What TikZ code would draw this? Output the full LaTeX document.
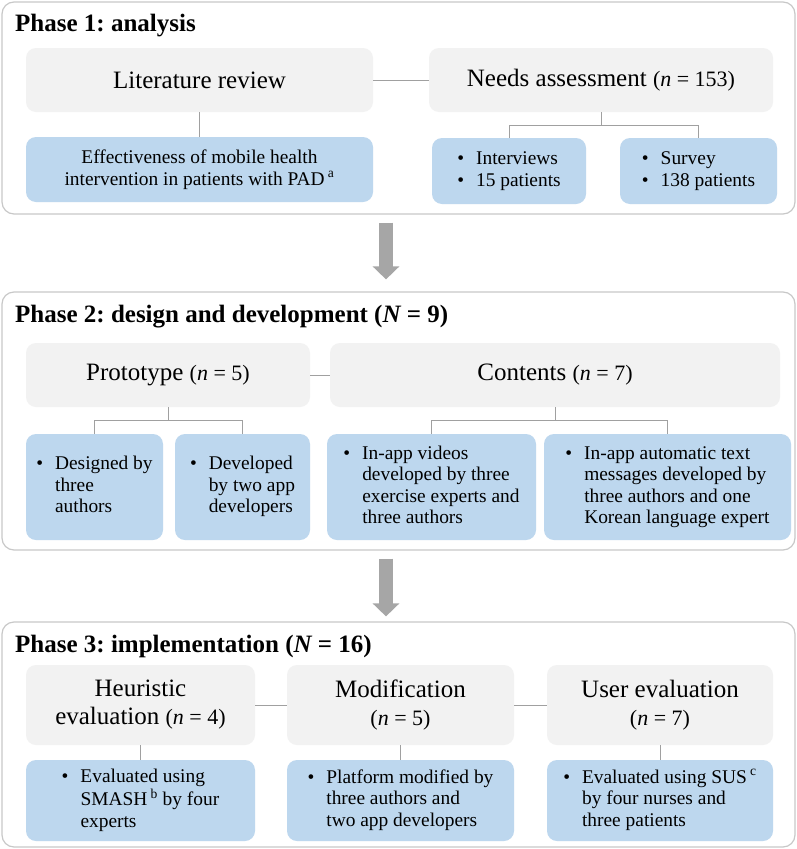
\documentclass[tikz,border=0pt]{standalone}
\usepackage{fontspec}
\setmainfont{Liberation Serif}
\usetikzlibrary{arrows.meta}
\frenchspacing

\newcommand{\bodyfont}{\fontsize{19.4}{21.5}\selectfont}
\newcommand{\nval}[2]{{\fontsize{22}{26}\selectfont(\textit{#1} = #2)}}
\newcommand{\bitems}[1]{\begin{tabular}{@{}l@{\hspace{12pt}}l@{}}#1\end{tabular}}

\begin{document}
\begin{tikzpicture}[x=1pt, y=-1pt,
  frame/.style={draw=framegray, line width=1.2pt, fill=white, rounded corners=12pt, inner sep=0pt},
  head/.style={fill=headgray, rounded corners=10pt, font=\fontsize{25}{28}\selectfont, align=center, inner sep=0pt},
  leaf/.style={fill=leafblue, rounded corners=10pt, font=\bodyfont, align=left, inner sep=0pt},
  title/.style={anchor=base west, font=\fontsize{25}{28}\selectfont\bfseries, inner sep=0pt},
  link/.style={draw=linkgray, line width=1pt},
  bigarrow/.style={draw=arrowgray, line width=14pt, -{Triangle[width=26pt,length=13pt]}}]
  % Define colors
  \definecolor{framegray}{HTML}{C8C8C8}
  \definecolor{headgray}{HTML}{F2F2F2}
  \definecolor{leafblue}{HTML}{BDD7EE}
  \definecolor{linkgray}{HTML}{A0A0A0}
  \definecolor{arrowgray}{HTML}{A6A6A6}

  \useasboundingbox (0,0) rectangle (796,849);

  % Phase frames
  \node[frame, minimum width=793, minimum height=212] (ph1) at (398.5,108) {};
  \node[frame, minimum width=793, minimum height=258] (ph2) at (398.5,421) {};
  \node[frame, minimum width=793, minimum height=225] (ph3) at (398.5,734.5) {};

  \node[title] (t1) at (15,31) {Phase 1: analysis};
  \node[title] (t2) at (15,322) {Phase 2: design and development ({\itshape N} = 9)};
  \node[title] (t3) at (15,652) {Phase 3: implementation ({\itshape N} = 16)};

  % Phase 1
  \node[head, minimum width=347, minimum height=64] (lit) at (199.5,80) {Literature review};
  \node[head, minimum width=344, minimum height=64] (needs) at (601,80) {Needs assessment \nval{n}{153}};
  \node[leaf, align=center, minimum width=347, minimum height=65] (eff) at (199.5,169.5)
    {Effectiveness of mobile health\\intervention in patients with PAD\,\textsuperscript{a}};
  \node[leaf, minimum width=154, minimum height=66] (intv) at (509,171)
    {\bitems{\textbullet & Interviews\\ \textbullet & 15 patients}};
  \node[leaf, minimum width=157, minimum height=66] (surv) at (698.5,171)
    {\bitems{\textbullet & Survey\\ \textbullet & 138 patients}};

  \draw[link] (lit.east) -- (needs.west);
  \draw[link] (lit.south) -- (eff.north);
  \draw[link] (needs.south) -- ++(0,13) -| (intv.north);
  \draw[link] (needs.south) -- ++(0,13) -| (surv.north);

  % Phase 2
  \node[head, minimum width=284, minimum height=64] (proto) at (168,375) {Prototype \nval{n}{5}};
  \node[head, minimum width=450, minimum height=64] (cont) at (555,375) {Contents \nval{n}{7}};
  \node[leaf, minimum width=137, minimum height=106] (dsgn) at (94.5,487)
    {\bitems{\textbullet & Designed by\\ & three\\ & authors}};
  \node[leaf, minimum width=135, minimum height=106] (devl) at (242.5,487)
    {\bitems{\textbullet & Developed\\ & by two app\\ & developers}};
  \node[leaf, minimum width=209, minimum height=106] (vids) at (431.5,487)
    {\bitems{\textbullet & In-app videos\\ & developed by three\\ & exercise experts and\\ & three authors}};
  \node[leaf, minimum width=247, minimum height=106] (msgs) at (667.5,487)
    {\bitems{\textbullet & In-app automatic text\\ & messages developed by\\ & three authors and one\\ & Korean language expert}};

  \draw[link] (proto.east) -- (cont.west);
  \draw[link] (proto.south) -- ++(0,13) -| (dsgn.north);
  \draw[link] (proto.south) -- ++(0,13) -| (devl.north);
  \draw[link] (cont.south) -- ++(0,13) -| (vids.north);
  \draw[link] (cont.south) -- ++(0,13) -| (msgs.north);

  % Phase 3
  \node[head, minimum width=229, minimum height=80] (heur) at (140.5,705) {Heuristic\\evaluation \nval{n}{4}};
  \node[head, minimum width=227, minimum height=80] (modf) at (400.5,705) {Modification\\\nval{n}{5}};
  \node[head, minimum width=226, minimum height=80] (user) at (660,705) {User evaluation\\\nval{n}{7}};
  \node[leaf, minimum width=229, minimum height=81] (smash) at (140.5,800.5)
    {\bitems{\textbullet & Evaluated using\\ & SMASH\,\textsuperscript{b} by four\\ & experts}};
  \node[leaf, minimum width=227, minimum height=81] (pltf) at (400.5,800.5)
    {\bitems{\textbullet & Platform modified by\\ & three authors and\\ & two app developers}};
  \node[leaf, minimum width=226, minimum height=81] (sus) at (660,800.5)
    {\bitems{\textbullet & Evaluated using SUS\,\textsuperscript{c}\\ & by four nurses and\\ & three patients}};

  \draw[link] (heur.east) -- (modf.west);
  \draw[link] (modf.east) -- (user.west);
  \draw[link] (heur.south) -- (smash.north);
  \draw[link] (modf.south) -- (pltf.north);
  \draw[link] (user.south) -- (sus.north);

  % Arrows between phases
  \draw[bigarrow] ([xshift=-12.5pt,yshift=-8pt]ph1.south) -- ([xshift=-12.5pt,yshift=12pt]ph2.north);
  \draw[bigarrow] ([xshift=-12.5pt,yshift=-8pt]ph2.south) -- ([xshift=-12.5pt,yshift=5pt]ph3.north);
\end{tikzpicture}
\end{document}
